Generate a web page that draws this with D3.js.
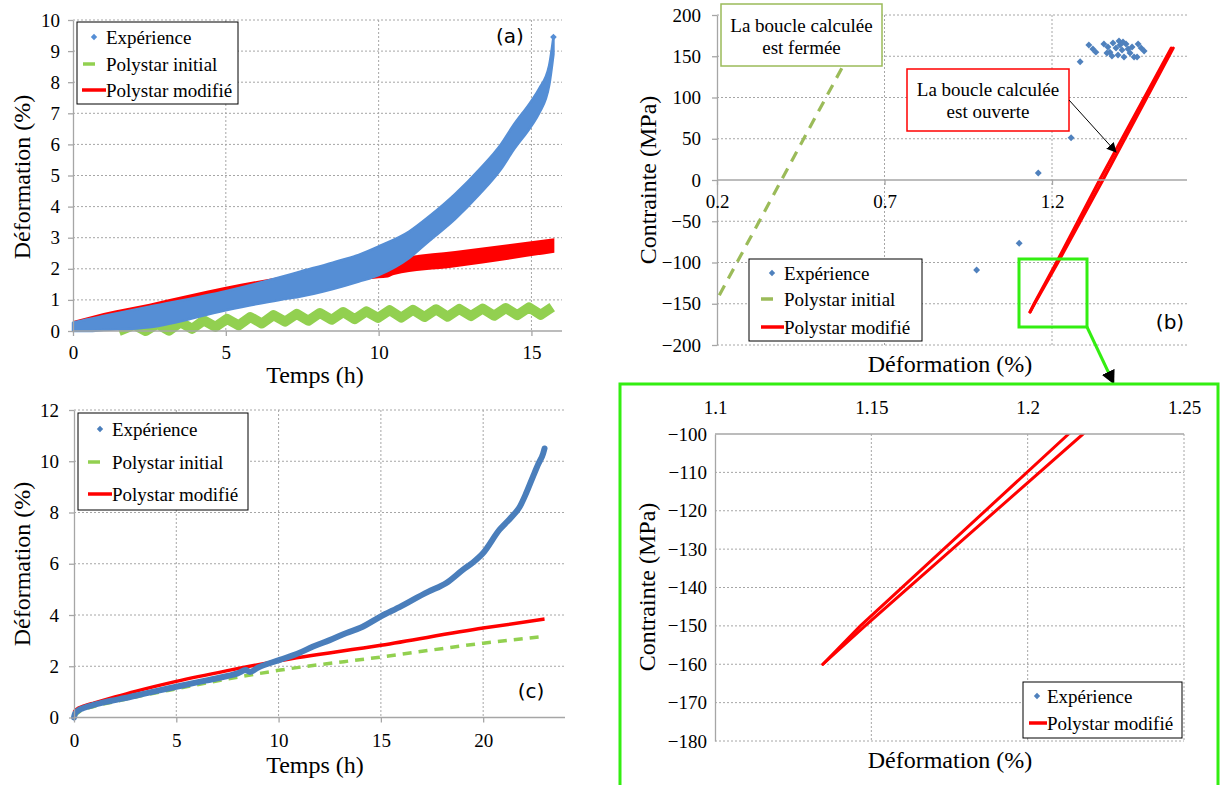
<!DOCTYPE html>
<html><head><meta charset="utf-8">
<script src="https://cdn.jsdelivr.net/npm/d3@7"></script>
<style>
body{margin:0;background:#fff;}
svg{display:block;}
</style></head><body>
<script>
// ================= DATA =================
// Panel (a) : Déformation (%) vs Temps (h) — cyclic test, bands
const tExpA     = [0, 0.5, 1, 2.5, 5, 6.75, 7.4, 8.5, 9.35, 10, 11, 11.66, 12.5, 13.3, 14, 14.4, 15, 15.25, 15.58, 15.72];
const expAUpper = [0.27, 0.38, 0.48, 0.78, 1.28, 1.72, 1.9, 2.2, 2.45, 2.72, 3.2, 3.69, 4.4, 5.2, 6.0, 6.6, 7.4, 7.79, 8.54, 9.45];
const expALower = [0, 0, 0.03, 0.12, 0.67, 1.0, 1.1, 1.35, 1.59, 1.8, 2.35, 2.9, 3.6, 4.4, 5.2, 5.8, 6.6, 7.0, 7.9, 8.9];
const tRedA     = [0, 0.5, 1, 2.5, 5, 7.5, 10, 10.3, 10.5, 12.5, 15.75];
const redAUpper = [0.32, 0.45, 0.58, 0.88, 1.42, 1.85, 2.12, 2.17, 2.3, 2.57, 2.98];
const redALower = [0.05, 0.2, 0.3, 0.55, 0.95, 1.35, 1.7, 1.72, 1.8, 2.05, 2.52];
const tGreenA   = [1.5, 2.0, 2.38, 2.76, 3.14, 3.52, 3.9, 4.28, 4.66, 5.04, 5.42, 5.8, 6.18, 6.56, 6.94, 7.32, 7.7, 8.08, 8.46, 8.84, 9.22, 9.6, 9.98, 10.36, 10.74, 11.12, 11.5, 11.88, 12.26, 12.64, 13.02, 13.4, 13.78, 14.16, 14.54, 14.92, 15.3, 15.68];
const greenA    = [0.0, 0.2, 0.0, 0.23, 0.01, 0.28, 0.07, 0.34, 0.13, 0.39, 0.18, 0.45, 0.24, 0.51, 0.30, 0.55, 0.33, 0.58, 0.36, 0.61, 0.38, 0.63, 0.42, 0.67, 0.43, 0.68, 0.45, 0.70, 0.46, 0.71, 0.48, 0.72, 0.49, 0.74, 0.51, 0.76, 0.52, 0.77];

// Panel (b) : Contrainte (MPa) vs Déformation (%)
const expBx = [0.975, 1.102, 1.159, 1.257, 1.284, 1.310, 1.322, 1.331, 1.355, 1.367, 1.373, 1.382, 1.391, 1.397, 1.403, 1.409, 1.415, 1.421, 1.427, 1.433, 1.439, 1.445, 1.457, 1.466, 1.475, 1.454, 1.379, 1.364, 1.400, 1.412];
const expBy = [-109, -76.7, 8.5, 51.3, 143.4, 163.6, 158.8, 155, 164.8, 161.2, 155, 166, 160, 151.5, 163.6, 157.6, 149, 164.8, 158.8, 154, 161.2, 149, 164.8, 160, 156.4, 149, 150.3, 154, 168.5, 167.3];
const initBx = [0.18, 0.605];
const initBy = [-160, 160];
const modUpX = [1.1345, 1.1465, 1.2131, 1.342, 1.556];
const modUpY = [-160, -150, -100, 0, 160];
const modLoX = [1.1345, 1.148, 1.2177, 1.352, 1.562];
const modLoY = [-160, -150, -100, 0, 160];

// Panel (c) : Déformation (%) vs Temps (h)
const tExpC = [0, 0.05, 0.2, 0.5, 1, 1.5, 2, 2.5, 3, 4, 5, 6, 7, 7.5, 8, 8.4, 8.6, 9, 10.06, 11, 11.69, 12.5, 13.32, 14, 15, 16, 16.58, 17.3, 18.2, 19.02, 19.5, 20, 20.8, 21.3, 21.8, 22.1, 22.44, 22.7, 22.93, 23.0];
const expC  = [0, 0.15, 0.27, 0.38, 0.5, 0.6, 0.68, 0.76, 0.85, 1.03, 1.2, 1.37, 1.53, 1.62, 1.72, 1.85, 1.78, 1.95, 2.25, 2.52, 2.77, 3.02, 3.3, 3.5, 3.95, 4.35, 4.6, 4.9, 5.25, 5.77, 6.05, 6.42, 7.33, 7.75, 8.24, 8.75, 9.41, 9.9, 10.3, 10.5];
const tRedC = [0, 0.1, 0.5, 1, 2, 3, 5, 7.5, 10, 15, 20, 23];
const redC  = [0.2, 0.3, 0.45, 0.57, 0.8, 1.02, 1.41, 1.83, 2.21, 2.82, 3.49, 3.84];
const tGreenC = [0, 0.3, 1, 2, 3, 5, 7.5, 10, 15, 20, 23];
const greenC  = [0.05, 0.25, 0.44, 0.62, 0.8, 1.12, 1.5, 1.84, 2.36, 2.9, 3.17];

// Tick values
const ticksXA = [0, 5, 10, 15];
const ticksYA = [0, 1, 2, 3, 4, 5, 6, 7, 8, 9, 10];
const ticksXB = [0.2, 0.7, 1.2];
const ticksYB = [-200, -150, -100, -50, 0, 50, 100, 150, 200];
const ticksXC = [0, 5, 10, 15, 20];
const ticksYC = [0, 2, 4, 6, 8, 10, 12];
const ticksXD = [1.1, 1.15, 1.2, 1.25];
const ticksYD = [-100, -110, -120, -130, -140, -150, -160, -170, -180];

const legendFull = ["Expérience", "Polystar initial", "Polystar modifié"];
const legendD = ["Expérience", "Polystar modifié"];

// ================= STYLE =================
const SERIF = "'Liberation Serif','Times New Roman',serif";
const SANS = "'DejaVu Sans',sans-serif";
const AX = "#a6a6a6";
const BLUE_A = "#558ed5", BLUE_C = "#4a7ebb", BLUE_B = "#4f81bd";
const RED = "#ff0000", GREEN = "#92d050", OLIVE = "#9bbb59", LIME = "#33ee11";
const fmt = d3.format("~g");

const svg = d3.select("body").append("svg").attr("width", 1222).attr("height", 785);
const defs = svg.append("defs");
defs.append("marker").attr("id", "arrowBlack").attr("viewBox", "0 0 10 10")
  .attr("refX", 9).attr("refY", 5).attr("markerWidth", 10).attr("markerHeight", 10)
  .attr("markerUnits", "userSpaceOnUse").attr("orient", "auto")
  .append("path").attr("d", "M0,0 L10,5 L0,10 z").attr("fill", "#000");
defs.append("marker").attr("id", "arrowBig").attr("viewBox", "0 0 10 10")
  .attr("refX", 8).attr("refY", 5).attr("markerWidth", 14).attr("markerHeight", 14)
  .attr("markerUnits", "userSpaceOnUse").attr("orient", "auto")
  .append("path").attr("d", "M0,0 L10,5 L0,10 z").attr("fill", "#000");

function styleAxis(g, fs) {
  g.attr("font-family", null).attr("font-size", null);
  g.select(".domain").attr("stroke", AX).attr("stroke-width", 1.3);
  g.selectAll(".tick line").attr("stroke", AX).attr("stroke-width", 1.3);
  g.selectAll(".tick text").attr("font-family", SERIF).attr("font-size", fs || 19).attr("fill", "#000");
}
function gridH(g, y, vals, x0, x1) {
  g.append("g").selectAll("line").data(vals).join("line")
    .attr("x1", x0).attr("x2", x1).attr("y1", d => y(d)).attr("y2", d => y(d))
    .attr("stroke", AX).attr("stroke-width", 1).attr("stroke-dasharray", "2,2");
}
function gridV(g, x, vals, y0, y1) {
  g.append("g").selectAll("line").data(vals).join("line")
    .attr("y1", y0).attr("y2", y1).attr("x1", d => x(d)).attr("x2", d => x(d))
    .attr("stroke", AX).attr("stroke-width", 1).attr("stroke-dasharray", "2,2");
}
function txt(g, x, y, s, size, opts) {
  opts = opts || {};
  const t = g.append("text").attr("x", x).attr("y", y).text(s)
    .attr("font-family", opts.family || SERIF).attr("font-size", size)
    .attr("text-anchor", opts.anchor || "middle").attr("fill", "#000");
  if (opts.rotate) t.attr("transform", `rotate(-90,${x},${y})`);
  return t;
}
function diamond(g, x, y, size, color) {
  g.append("path").attr("d", d3.symbol(d3.symbolSquare, size)())
    .attr("transform", `translate(${x},${y}) rotate(45)`).attr("fill", color);
}
function legend(g, box, rows) {
  g.append("rect").attr("x", box[0]).attr("y", box[1]).attr("width", box[2] - box[0]).attr("height", box[3] - box[1])
    .attr("fill", "#fff").attr("stroke", "#000").attr("stroke-width", 1);
  rows.forEach(r => {
    if (r.kind === "diamond") diamond(g, r.mx, r.y, 20, r.color);
    else g.append("line").attr("x1", r.mx1).attr("x2", r.mx2).attr("y1", r.y).attr("y2", r.y)
      .attr("stroke", r.color).attr("stroke-width", 3.5);
    txt(g, r.tx, r.y + 6.5, r.label, 19, {anchor: "start"});
  });
}

// ================= PANEL (a) =================
{
  const g = svg.append("g");
  const x = d3.scaleLinear().domain([0, 16]).range([73, 562]);
  const y = d3.scaleLinear().domain([0, 10]).range([331, 20]);
  gridH(g, y, ticksYA.filter(d => d > 0), 73, 562);
  gridV(g, x, ticksXA.filter(d => d > 0), 20, 331);
  const area = d3.area().x(d => x(d.t)).y0(d => y(d.lo)).y1(d => y(d.hi)).curve(d3.curveMonotoneX);

  // red band
  const red = tRedA.map((t, i) => ({t, lo: redALower[i], hi: redAUpper[i]}));
  g.append("path").datum(red).attr("fill", RED).attr("d", area);
  // green zigzag
  const gr = tGreenA.map((t, i) => [t, greenA[i]]);
  g.append("path").datum(gr).attr("fill", "none").attr("stroke", GREEN).attr("stroke-width", 10)
    .attr("stroke-linejoin", "round")
    .attr("d", d3.line().x(d => x(d[0])).y(d => y(d[1])));
  // blue band
  const blue = tExpA.map((t, i) => ({t, lo: expALower[i], hi: expAUpper[i]}));
  g.append("path").datum(blue).attr("fill", BLUE_A).attr("stroke", BLUE_A).attr("stroke-width", 2.5)
    .attr("stroke-linejoin", "round").attr("d", area);
  diamond(g, x(tExpA[tExpA.length - 1]), y(expAUpper[expAUpper.length - 1]), 22, BLUE_A);

  const ay = g.append("g").attr("transform", "translate(73,0)")
    .call(d3.axisLeft(y).tickValues(ticksYA).tickSize(5).tickSizeOuter(0).tickPadding(8));
  styleAxis(ay);
  const ax = g.append("g").attr("transform", "translate(0,331)")
    .call(d3.axisBottom(x).tickValues(ticksXA).tickSize(5).tickSizeOuter(0).tickPadding(10));
  styleAxis(ax);
  ax.select(".domain").attr("d", "M73,0H562");

  txt(g, 22, 177, "Déformation (%)", 24, {rotate: true}).attr("dy", "0.35em");
  txt(g, 315, 383, "Temps (h)", 24);
  txt(g, 510, 43, "(a)", 20, {family: SANS});

  legend(g, [77, 22, 238, 104], [
    {kind: "diamond", mx: 94, y: 37, color: BLUE_A, tx: 106, label: legendFull[0]},
    {kind: "line", mx1: 83, mx2: 95, y: 64, color: GREEN, tx: 106, label: legendFull[1]},
    {kind: "line", mx1: 82, mx2: 106, y: 90, color: RED, tx: 106, label: legendFull[2]}
  ]);
}

// ================= PANEL (b) =================
{
  const g = svg.append("g");
  const x = d3.scaleLinear().domain([0.2, 1.6]).range([717, 1186]);
  const y = d3.scaleLinear().domain([-200, 200]).range([345, 15]);
  gridH(g, y, ticksYB.filter(d => d !== 0), 717, 1187);
  gridV(g, x, ticksXB.filter(d => d > 0.2), 15, 345);

  defs.append("clipPath").attr("id", "clipB").append("rect")
    .attr("x", 717).attr("y", 15).attr("width", 470).attr("height", 330);
  const pl = g.append("g").attr("clip-path", "url(#clipB)");
  const line = d3.line().x(d => x(d[0])).y(d => y(d[1]));

  pl.append("path").datum(initBx.map((v, i) => [v, initBy[i]])).attr("fill", "none")
    .attr("stroke", OLIVE).attr("stroke-width", 3.2).attr("stroke-dasharray", "11,8")
    .attr("d", line);
  [[modUpX, modUpY], [modLoX, modLoY]].forEach(([xs, ys]) => {
    pl.append("path").datum(xs.map((v, i) => [v, ys[i]])).attr("fill", "none")
      .attr("stroke", RED).attr("stroke-width", 3).attr("stroke-linecap", "round")
      .attr("d", line);
  });
  expBx.forEach((v, i) => diamond(pl, x(v), y(expBy[i]), 24, BLUE_B));

  const ay = g.append("g").attr("transform", "translate(717,0)")
    .call(d3.axisLeft(y).tickValues(ticksYB).tickSize(5).tickSizeOuter(0).tickPadding(11));
  styleAxis(ay);
  const ax = g.append("g").attr("transform", `translate(0,${y(0)})`)
    .call(d3.axisBottom(x).tickValues(ticksXB).tickFormat(fmt).tickSize(5).tickSizeOuter(0).tickPadding(10));
  styleAxis(ax);
  ax.select(".domain").attr("d", "M717,0H1187");

  txt(g, 648, 180, "Contrainte (MPa)", 24, {rotate: true}).attr("dy", "0.35em");
  txt(g, 950, 372, "Déformation (%)", 24);
  txt(g, 1170, 329, "(b)", 20, {family: SANS});

  legend(g, [749, 259, 922, 341], [
    {kind: "diamond", mx: 772, y: 273, color: BLUE_B, tx: 784, label: legendFull[0]},
    {kind: "line", mx1: 761, mx2: 773, y: 299, color: OLIVE, tx: 784, label: legendFull[1]},
    {kind: "line", mx1: 761, mx2: 784, y: 327, color: RED, tx: 784, label: legendFull[2]}
  ]);

  // annotations
  g.append("rect").attr("x", 721).attr("y", 4).attr("width", 161).attr("height", 62)
    .attr("fill", "#fff").attr("stroke", OLIVE).attr("stroke-width", 1.5);
  txt(g, 801.5, 32, "La boucle calculée", 19);
  txt(g, 801.5, 54, "est fermée", 19);

  g.append("rect").attr("x", 907).attr("y", 69).attr("width", 162).attr("height", 62)
    .attr("fill", "#fff").attr("stroke", RED).attr("stroke-width", 1.5);
  txt(g, 988, 96, "La boucle calculée", 19);
  txt(g, 988, 118, "est ouverte", 19);
  g.append("line").attr("x1", 1069).attr("y1", 100).attr("x2", 1116).attr("y2", 152)
    .attr("stroke", "#000").attr("stroke-width", 1).attr("marker-end", "url(#arrowBlack)");

  // zoom box
  g.append("rect").attr("x", 1019).attr("y", 259).attr("width", 68).attr("height", 68)
    .attr("fill", "none").attr("stroke", LIME).attr("stroke-width", 3);
  g.append("line").attr("x1", 1087).attr("y1", 327).attr("x2", 1113).attr("y2", 382)
    .attr("stroke", LIME).attr("stroke-width", 3).attr("marker-end", "url(#arrowBig)");
}

// ================= PANEL (c) =================
{
  const g = svg.append("g");
  const x = d3.scaleLinear().domain([0, 24]).range([74, 565]);
  const y = d3.scaleLinear().domain([0, 12]).range([717.5, 410]);
  gridH(g, y, ticksYC.filter(d => d > 0), 74, 565);
  gridV(g, x, ticksXC.filter(d => d > 0), 410, 717.5);
  const line = d3.line().x(d => x(d[0])).y(d => y(d[1])).curve(d3.curveMonotoneX);

  g.append("path").datum(tGreenC.map((t, i) => [t, greenC[i]])).attr("fill", "none")
    .attr("stroke", GREEN).attr("stroke-width", 3.5).attr("stroke-dasharray", "9,7")
    .attr("d", line);
  g.append("path").datum(tRedC.map((t, i) => [t, redC[i]])).attr("fill", "none")
    .attr("stroke", RED).attr("stroke-width", 3.5)
    .attr("d", line);
  g.append("path").datum(tExpC.map((t, i) => [t, expC[i]])).attr("fill", "none")
    .attr("stroke", BLUE_C).attr("stroke-width", 6).attr("stroke-linejoin", "round").attr("stroke-linecap", "round")
    .attr("d", line);

  const ay = g.append("g").attr("transform", "translate(74,0)")
    .call(d3.axisLeft(y).tickValues(ticksYC).tickSize(5).tickSizeOuter(0).tickPadding(10));
  styleAxis(ay);
  const ax = g.append("g").attr("transform", "translate(0,717.5)")
    .call(d3.axisBottom(x).tickValues(ticksXC).tickSize(5).tickSizeOuter(0).tickPadding(11));
  styleAxis(ax);
  ax.select(".domain").attr("d", "M74,0H565");

  txt(g, 22, 564, "Déformation (%)", 24, {rotate: true}).attr("dy", "0.35em");
  txt(g, 315, 773, "Temps (h)", 24);
  txt(g, 531, 698, "(c)", 20, {family: SANS});

  g.append("rect").attr("x", 78).attr("y", 413).attr("width", 170).attr("height", 97)
    .attr("fill", "#fff").attr("stroke", "#000").attr("stroke-width", 1);
  diamond(g, 100, 429, 20, BLUE_C);
  txt(g, 112, 435.5, legendFull[0], 19, {anchor: "start"});
  g.append("line").attr("x1", 88).attr("x2", 100).attr("y1", 462).attr("y2", 462)
    .attr("stroke", GREEN).attr("stroke-width", 3.5);
  txt(g, 112, 468.5, legendFull[1], 19, {anchor: "start"});
  g.append("line").attr("x1", 88).attr("x2", 112).attr("y1", 494).attr("y2", 494)
    .attr("stroke", RED).attr("stroke-width", 3.5);
  txt(g, 112, 500.5, legendFull[2], 19, {anchor: "start"});
}

// ================= PANEL (d) zoom =================
{
  const g = svg.append("g");
  g.append("rect").attr("x", 620).attr("y", 384).attr("width", 598).attr("height", 410)
    .attr("fill", "#fff").attr("stroke", LIME).attr("stroke-width", 3);
  const x = d3.scaleLinear().domain([1.1, 1.25]).range([715, 1184]);
  const y = d3.scaleLinear().domain([-100, -180]).range([434, 741]);
  gridH(g, y, ticksYD.filter(d => d !== -100), 715, 1184);
  gridV(g, x, ticksXD.filter(d => d > 1.1), 434, 741);

  defs.append("clipPath").attr("id", "clipD").append("rect")
    .attr("x", 715).attr("y", 434).attr("width", 469).attr("height", 307);
  const pl = g.append("g").attr("clip-path", "url(#clipD)");
  const line = d3.line().x(d => x(d[0])).y(d => y(d[1]));
  [[modUpX, modUpY], [modLoX, modLoY]].forEach(([xs, ys]) => {
    pl.append("path").datum(xs.map((v, i) => [v, ys[i]])).attr("fill", "none")
      .attr("stroke", RED).attr("stroke-width", 3).attr("stroke-linecap", "round")
      .attr("d", line);
  });

  const ay = g.append("g").attr("transform", "translate(715,0)")
    .call(d3.axisLeft(y).tickValues(ticksYD).tickSize(0).tickSizeOuter(0).tickPadding(8));
  styleAxis(ay);
  const ax = g.append("g").attr("transform", "translate(0,434)")
    .call(d3.axisTop(x).tickValues(ticksXD).tickFormat(fmt).tickSize(0).tickSizeOuter(0).tickPadding(20));
  styleAxis(ax);
  ax.select(".domain").attr("d", "M715,0H1184");

  txt(g, 647, 587, "Contrainte (MPa)", 24, {rotate: true}).attr("dy", "0.35em");
  txt(g, 950, 768, "Déformation (%)", 24);

  legend(g, [1023, 682, 1182, 738], [
    {kind: "diamond", mx: 1037, y: 696, color: BLUE_B, tx: 1047, label: legendD[0]},
    {kind: "line", mx1: 1029, mx2: 1047, y: 723, color: RED, tx: 1047, label: legendD[1]}
  ]);
}
</script>
</body></html>
